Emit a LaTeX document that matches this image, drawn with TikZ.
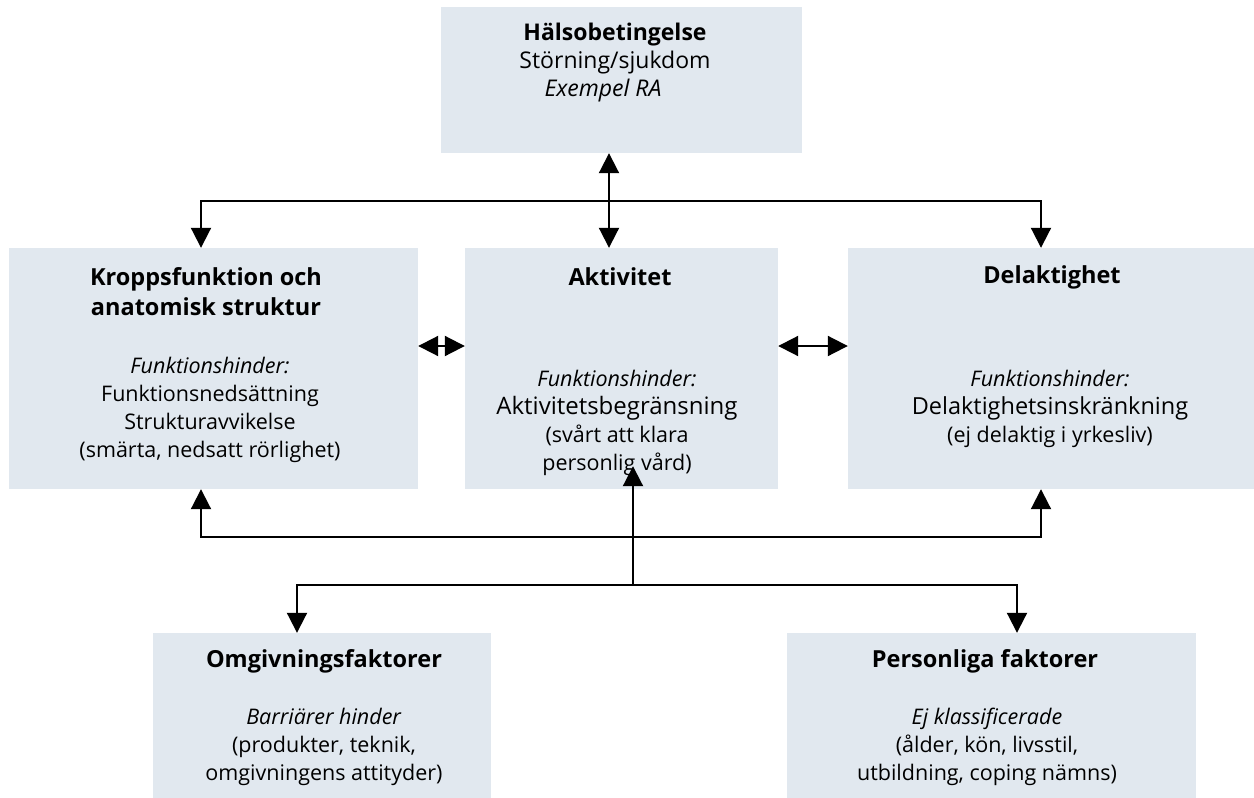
\documentclass[tikz,border=0pt]{standalone}
\usepackage{fontspec}
\setmainfont{Open Sans}
\usetikzlibrary{arrows.meta}
\definecolor{boxfill}{HTML}{E1E8EF}
\begin{document}
\begin{tikzpicture}[x=1pt,y=-1pt,
  box/.style={fill=boxfill, draw=none, inner sep=0pt, rectangle},
  txt/.style={align=center, inner sep=0pt, font=\fontsize{21.5}{28}\selectfont},
  head/.style={align=center, inner sep=0pt, font=\fontsize{23.5}{30}\selectfont\bfseries},
  conn/.style={line width=2pt, black},
  tip/.style={-{Triangle[length=20pt,width=20pt]}},
  dtip/.style={{Triangle[length=20pt,width=20pt]}-{Triangle[length=20pt,width=20pt]}}
]
\useasboundingbox (0,0) rectangle (1254,798);

% boxes
\node[box, minimum width=361pt, minimum height=146pt] (hb) at (621.5,80) {};
\node[box, minimum width=409pt, minimum height=241pt] (kb) at (213.5,368.5) {};
\node[box, minimum width=313pt, minimum height=241pt] (ab) at (621.5,368.5) {};
\node[box, minimum width=406pt, minimum height=241pt] (db) at (1051,368.5) {};
\node[box, minimum width=338pt, minimum height=165pt] (ob) at (322,715.5) {};
\node[box, minimum width=409pt, minimum height=165pt] (pb) at (991.5,715.5) {};

% texts
\node[txt, font=\fontsize{23}{28}\selectfont] (hbt) at (615,63) {\textbf{Hälsobetingelse}\\Störning/sjukdom\\\textit{Exempel RA}\hspace*{24pt}};

\node[head] (kbh) at (206,292) {Kroppsfunktion och\\anatomisk struktur};
\node[txt] (kbb) at (210,410) {\textit{Funktionshinder:}\\Funktionsnedsättning\\Strukturavvikelse\\(smärta, nedsatt rörlighet)};

\node[head] (abh) at (620,277) {Aktivitet};
\node[txt] (abb) at (617,423) {\textit{Funktionshinder:}\\{\fontsize{24}{28}\selectfont Aktivitetsbegränsning}\\(svårt att klara\\personlig vård)};

\node[head] (dbh) at (1052,277) {Delaktighet};
\node[txt] (dbb) at (1050,409) {\textit{Funktionshinder:}\\{\fontsize{23.5}{28}\selectfont Delaktighetsinskränkning}\\(ej delaktig i yrkesliv)};

\node[head] (obh) at (324,661) {Omgivningsfaktorer};
\node[txt] (obb) at (324,747) {\textit{Barriärer hinder}\\(produkter, teknik,\\omgivningens attityder)};

\node[head] (pbh) at (985,661) {Personliga faktorer};
\node[txt] (pbb) at (987,747) {\textit{Ej klassificerade}\\(ålder, kön, livsstil,\\utbildning, coping nämns)};

% connector coordinates
\coordinate (ut) at (609,201);
\coordinate (ul) at (201,201);
\coordinate (ur) at (1041,201);
\coordinate (ll) at (201,537);
\coordinate (lr) at (1041,537);
\coordinate (bm) at (633,585);
\coordinate (bl) at (297,585);
\coordinate (br) at (1017,585);

% top vertical double arrow
\draw[conn, dtip] (hb.south -| ut) -- (ab.north -| ut);
% upper bus
\draw[conn, dtip] (kb.north -| ul) -- (ul) -- (ur) -- (db.north -| ur);
% horizontal double arrows
\draw[conn, dtip] ([yshift=22.5pt]kb.east) -- ([yshift=22.5pt]ab.west);
\draw[conn, dtip] ([yshift=22.5pt]ab.east) -- ([yshift=22.5pt]db.west);
% lower bus
\draw[conn, dtip] (kb.south -| ll) -- (ll) -- (lr) -- (db.south -| lr);
\draw[conn, tip] (bm) -- ([xshift=11.5pt,yshift=23pt]ab.south);
\draw[conn, dtip] (ob.north -| bl) -- (bl) -- (br) -- (pb.north -| br);
\end{tikzpicture}
\end{document}
